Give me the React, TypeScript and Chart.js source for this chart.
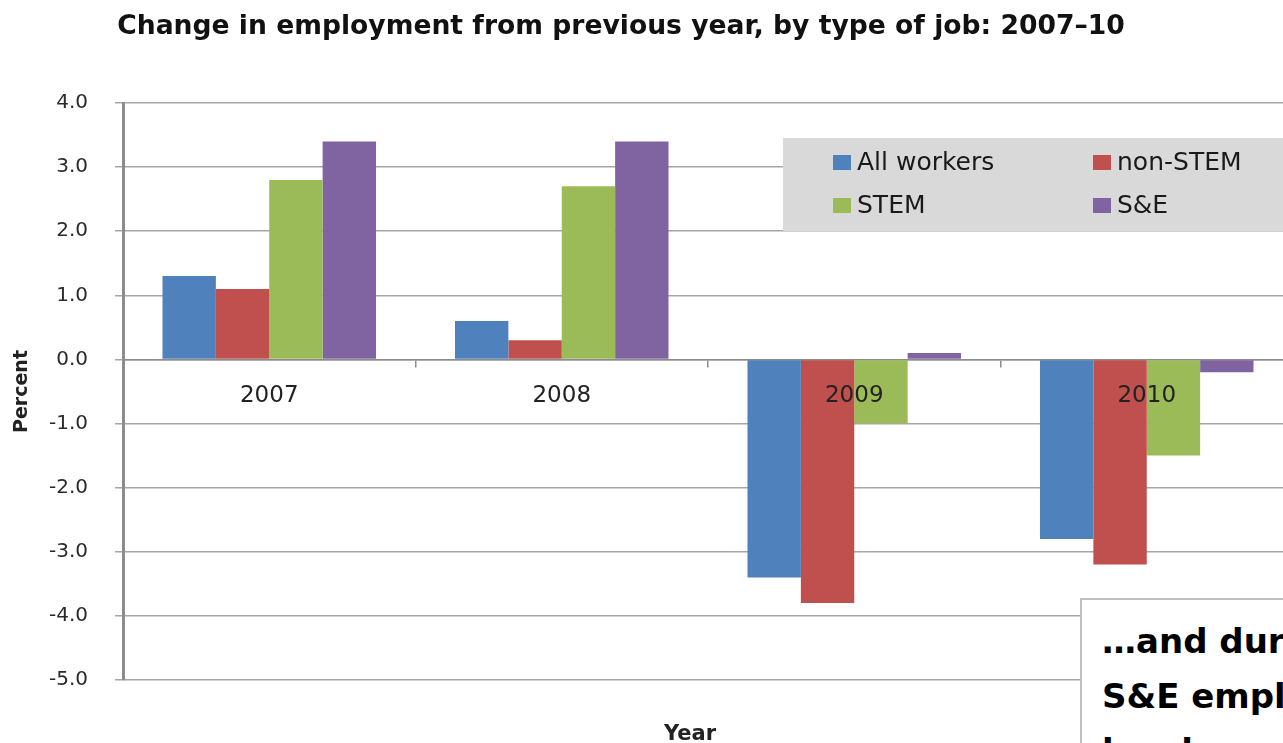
import { useEffect, useRef } from "react";
import { Chart, registerables } from "chart.js";

Chart.register(...registerables);

const chartTitle = "Change in employment from previous year, by type of job: 2007–10";
const yAxisTitle = "Percent";
const xAxisTitle = "Year";
const years = ["2007", "2008", "2009", "2010"];
const seriesNames = ["All workers", "non-STEM", "STEM", "S&E"];
const allWorkers = [1.3, 0.6, -3.4, -2.8];
const nonStem = [1.1, 0.3, -3.8, -3.2];
const stem = [2.8, 2.7, -1.0, -1.5];
const sAndE = [3.4, 3.4, 0.1, -0.2];
const seriesColors = ["#4F81BD", "#C0504D", "#9BBB59", "#8064A2"];
const yMin = -5;
const yMax = 4;
const yStep = 1;
const noteLines = ["…and during the recession,", "S&E employment", "has been less affected"];

const FONT = "'DejaVu Sans'";

const textPlugin = {
  id: "slideText",
  beforeDatasetsDraw(chart: any) {
    const ctx = chart.ctx;
    ctx.save();
    // legend box
    ctx.fillStyle = "#D9D9D9";
    ctx.fillRect(783, 138, 600, 93);
    chart.data.datasets.forEach((ds: any, i: number) => {
      const col = i % 2;
      const row = Math.floor(i / 2);
      const x = 833 + col * 260;
      const y = 163 + row * 43;
      ctx.fillStyle = ds.backgroundColor;
      ctx.fillRect(x, y - 8, 18, 15);
      ctx.fillStyle = "#1a1a1a";
      ctx.font = "25px " + FONT;
      ctx.textBaseline = "middle";
      ctx.textAlign = "left";
      ctx.fillText(ds.label, x + 24, y);
    });
    ctx.restore();
  },
  afterDraw(chart: any) {
    const ctx = chart.ctx;
    ctx.save();
    ctx.fillStyle = "#111";
    ctx.textAlign = "center";
    ctx.textBaseline = "alphabetic";
    ctx.font = "bold 26.6px " + FONT;
    ctx.fillText(chartTitle, 621, 34);
    ctx.fillStyle = "#222";
    ctx.font = "bold 21px " + FONT;
    ctx.fillText(xAxisTitle, 690, 740);
    ctx.restore();
  },
};

export default function App() {
  const ref = useRef<HTMLCanvasElement | null>(null);

  useEffect(() => {
    document.body.style.margin = "0";
    document.body.style.overflow = "hidden";
    if (!ref.current) return;
    const chart = new Chart(ref.current, {
      type: "bar",
      data: {
        labels: years,
        datasets: [allWorkers, nonStem, stem, sAndE].map((d, i) => ({
          label: seriesNames[i],
          data: d,
          backgroundColor: seriesColors[i],
          borderWidth: 0,
          categoryPercentage: 0.73,
          barPercentage: 1.0,
        })),
      },
      options: {
        animation: false,
        responsive: true,
        maintainAspectRatio: false,
        layout: { padding: { top: 103, bottom: 63, left: 0, right: 17 } },
        plugins: {
          legend: { display: false },
          title: { display: false },
          tooltip: { enabled: false },
        },
        scales: {
          x: {
            position: { y: 0 } as any,
            grid: {
              drawOnChartArea: false,
              drawTicks: true,
              tickLength: 7,
              color: "#8C8C8C",
              lineWidth: 1.5,
              offset: true,
            },
            border: { display: true, color: "#8C8C8C", width: 1.5 },
            ticks: {
              z: 1,
              font: { family: "DejaVu Sans", size: 23 },
              color: "#222",
              padding: 16,
            } as any,
          },
          y: {
            min: yMin,
            max: yMax,
            ticks: {
              stepSize: yStep,
              callback: (v: any) => Number(v).toFixed(1),
              font: { family: "DejaVu Sans", size: 20 },
              color: "#2a2a2a",
              padding: 27,
            },
            grid: { color: "#A6A6A6", lineWidth: 1.5, tickLength: 8 },
            border: { color: "#8C8C8C", width: 3 },
            title: {
              display: true,
              text: yAxisTitle,
              font: { family: "DejaVu Sans", size: 19, weight: "bold" },
              color: "#222",
              padding: { top: 11, bottom: 0 },
            },
            afterFit: (s: any) => {
              s.width = 123;
            },
          },
        },
      },
      plugins: [textPlugin],
    });
    (document as any).fonts?.ready?.then(() => chart.draw());
    return () => chart.destroy();
  }, []);

  return (
    <div style={{ position: "fixed", left: 0, top: 0, width: 1283, height: 743, overflow: "hidden", background: "#fff" }}>
      <div style={{ position: "absolute", left: 0, top: 0, width: 1310, height: 743 }}>
        <canvas ref={ref} />
      </div>
      <div
        style={{
          position: "absolute",
          left: 1080,
          top: 598,
          width: 620,
          height: 300,
          border: "2px solid #BFBFBF",
          background: "#fff",
          boxSizing: "border-box",
          padding: "14px 0 0 20px",
          fontFamily: "'DejaVu Sans'",
          fontWeight: "bold",
          fontSize: 34,
          lineHeight: "55px",
          color: "#000",
          whiteSpace: "nowrap",
        }}
      >
        {noteLines.map((l, i) => (
          <div key={i}>{l}</div>
        ))}
      </div>
    </div>
  );
}
